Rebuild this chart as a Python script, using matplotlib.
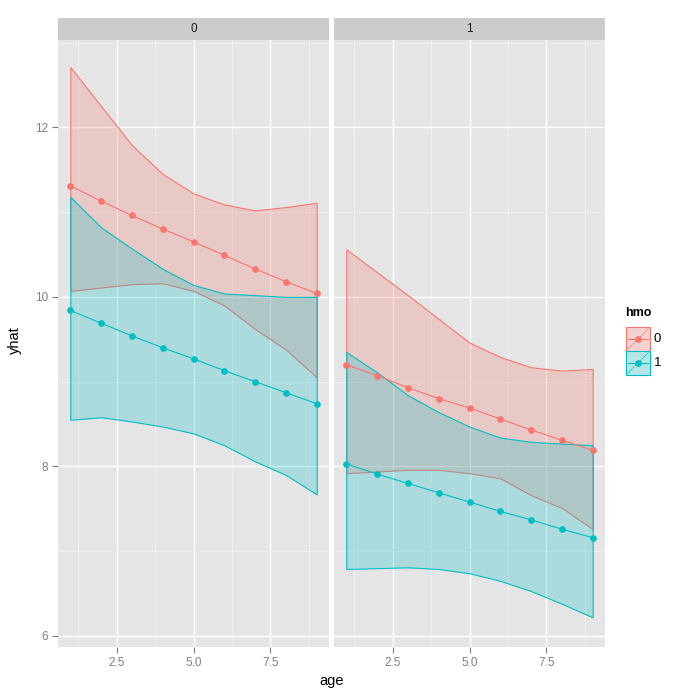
import matplotlib
matplotlib.use("Agg")
import matplotlib.pyplot as plt
from matplotlib.patches import Rectangle
from matplotlib.colors import to_rgba
from matplotlib.ticker import MultipleLocator

plt.rcParams['font.family'] = ['Liberation Sans', 'DejaVu Sans']

age = [1, 2, 3, 4, 5, 6, 7, 8, 9]
panels = ["0", "1"]
hmo_levels = ["0", "1"]
colors = {"0": "#F8766D", "1": "#00BFC4"}

# yhat, lower, upper per facet (panel) and hmo group
yhat = {
    ("0", "0"): [11.31, 11.13, 10.96, 10.80, 10.65, 10.49, 10.33, 10.18, 10.04],
    ("0", "1"): [9.84, 9.69, 9.54, 9.40, 9.27, 9.13, 9.00, 8.87, 8.74],
    ("1", "0"): [9.20, 9.07, 8.93, 8.80, 8.69, 8.56, 8.43, 8.31, 8.19],
    ("1", "1"): [8.03, 7.91, 7.80, 7.69, 7.58, 7.47, 7.37, 7.26, 7.16],
}
upper = {
    ("0", "0"): [12.71, 12.25, 11.79, 11.45, 11.22, 11.09, 11.02, 11.06, 11.11],
    ("0", "1"): [11.18, 10.82, 10.57, 10.33, 10.14, 10.04, 10.02, 10.00, 10.00],
    ("1", "0"): [10.56, 10.29, 10.02, 9.74, 9.46, 9.29, 9.17, 9.13, 9.15],
    ("1", "1"): [9.35, 9.11, 8.84, 8.64, 8.47, 8.34, 8.29, 8.27, 8.25],
}
lower = {
    ("0", "0"): [10.07, 10.11, 10.15, 10.16, 10.07, 9.90, 9.62, 9.38, 9.05],
    ("0", "1"): [8.55, 8.58, 8.53, 8.47, 8.39, 8.25, 8.06, 7.90, 7.67],
    ("1", "0"): [7.92, 7.94, 7.96, 7.96, 7.92, 7.86, 7.66, 7.51, 7.26],
    ("1", "1"): [6.79, 6.80, 6.81, 6.79, 6.74, 6.65, 6.53, 6.38, 6.22],
}

W = H = 700.0
fig = plt.figure(figsize=(7, 7), dpi=100)
fig.patch.set_facecolor("white")

panel_left = [58, 334]
pw = 271
ptop, pbot = 40, 647
strip_top = 18

for i, p in enumerate(panels):
    x0 = panel_left[i]
    ax = fig.add_axes([x0 / W, (H - pbot) / H, pw / W, (pbot - ptop) / H])
    ax.set_facecolor("#E5E5E5")
    for s in ax.spines.values():
        s.set_visible(False)
    ax.set_xlim(0.6, 9.4)
    ax.set_ylim(5.87, 13.03)
    ax.xaxis.set_major_locator(MultipleLocator(2.5))
    ax.xaxis.set_minor_locator(MultipleLocator(1.25))
    ax.yaxis.set_major_locator(MultipleLocator(2))
    ax.yaxis.set_minor_locator(MultipleLocator(1))
    ax.grid(which="minor", color="#F2F2F2", lw=0.6)
    ax.grid(which="major", color="white", lw=1.0)
    ax.set_axisbelow(True)
    ax.tick_params(which="minor", length=0)
    ax.tick_params(which="major", length=4, width=0.8, color="#7F7F7F",
                   labelcolor="#7F7F7F", labelsize=8.5, pad=3)
    ax.set_xticks([2.5, 5.0, 7.5])
    ax.set_xticklabels(["2.5", "5.0", "7.5"])
    if i == 0:
        ax.set_yticks([6, 8, 10, 12])
        ax.set_yticklabels(["6", "8", "10", "12"])
    else:
        ax.tick_params(axis="y", which="major", length=0, labelleft=False)

    for g in hmo_levels:
        c = colors[g]
        ax.fill_between(age, lower[(p, g)], upper[(p, g)],
                        facecolor=to_rgba(c, 0.25), edgecolor=c, lw=0.8, zorder=2)
    for g in hmo_levels:
        c = colors[g]
        ax.plot(age, yhat[(p, g)], color=c, lw=0.8, marker="o", ms=3.8, zorder=3)

    sax = fig.add_axes([x0 / W, (H - ptop) / H, pw / W, (ptop - strip_top) / H])
    sax.set_facecolor("#CCCCCC")
    for s in sax.spines.values():
        s.set_visible(False)
    sax.set_xticks([])
    sax.set_yticks([])
    sax.text(0.5, 0.5, p, ha="center", va="center", fontsize=8.5, color="#1A1A1A",
             transform=sax.transAxes)

fig.text(((panel_left[0] + panel_left[1] + pw) / 2) / W, 1 - 681 / H, "age",
         ha="center", va="center", fontsize=10.5)
fig.text(15 / W, 1 - 340 / H, "yhat", ha="center", va="center", rotation=90, fontsize=10.5)

# legend drawn by hand
lax = fig.add_axes([0, 0, 1, 1], facecolor="none")
lax.set_xlim(0, W)
lax.set_ylim(H, 0)
lax.axis("off")
lax.text(625, 319, "hmo", fontsize=9, fontweight="bold", ha="left", va="bottom")
key_x, key_w, key_h = 626, 24, 24
for j, g in enumerate(hmo_levels):
    c = colors[g]
    ky = 327 + j * key_h
    lax.add_patch(Rectangle((key_x, ky), key_w, key_h, facecolor="#F2F2F2",
                            edgecolor="white", lw=0.8))
    lax.add_patch(Rectangle((key_x, ky), key_w, key_h, facecolor=to_rgba(c, 0.25),
                            edgecolor=c, lw=0.8))
    lax.plot([key_x, key_x + key_w], [ky + key_h, ky], color=c, lw=0.6, ls=(0, (2, 1)))
    lax.plot([key_x + 2, key_x + key_w - 2], [ky + key_h / 2] * 2, color=c, lw=0.8)
    lax.plot([key_x + key_w / 2], [ky + key_h / 2], marker="o", color=c, ms=3.8)
    lax.text(key_x + key_w + 4, ky + key_h / 2, g, fontsize=9.5, ha="left", va="center")

fig.savefig("out.png", dpi=100)
